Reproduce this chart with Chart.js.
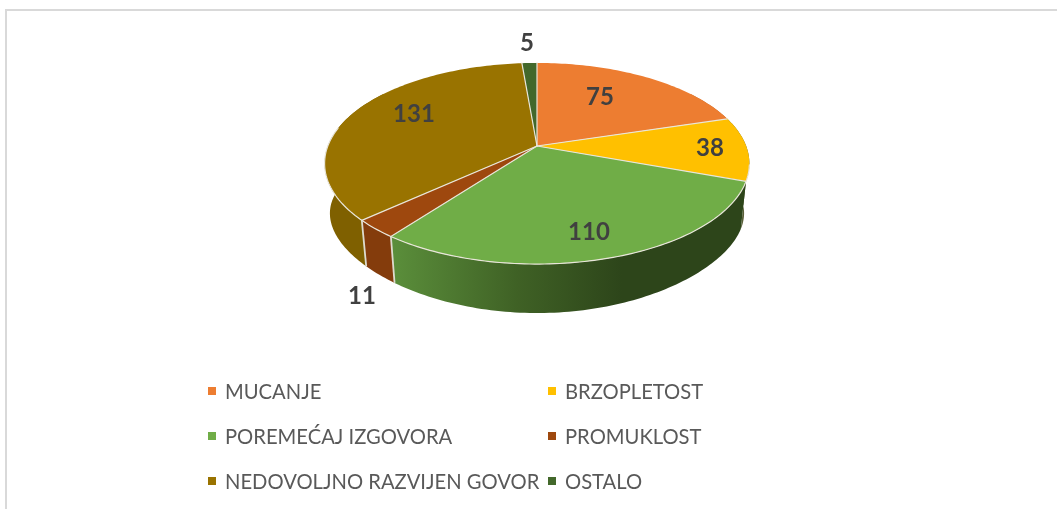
<!DOCTYPE html>
<html>
<head>
<meta charset="utf-8">
<style>html,body{margin:0;padding:0;background:#fff}canvas{display:block}</style>
<script src="https://cdn.jsdelivr.net/npm/chart.js@4"></script>
</head>
<body>
<div style="width:1057px;height:509px"><canvas id="c"></canvas></div>
<script>
const categories = ['MUCANJE','BRZOPLETOST','POREMEĆAJ IZGOVORA','PROMUKLOST','NEDOVOLJNO RAZVIJEN GOVOR','OSTALO'];
const values = [75,38,110,11,131,5];
const topColors = ['#ED7D31','#FFC000','#70AD47','#9E480E','#997300','#43682B'];
const sideColors = ['#BE6427','#5A5F38','#2D451A','#843C0C','#7F6000','#2F4A1E'];
const labelAnchors = [[600,97],[710,148],[589,232],[362,296],[414,114],[527,43]];
const FONT = 'Lato, Carlito, "Open Sans", sans-serif';

const persp = 0.174, perspLower = 0.296;
function project(arc, theta, lower) {
  const R = arc.outerRadius;
  const sx = Math.sin(theta), sy = -Math.cos(theta);
  const d = 1 - persp*sy;
  if (lower) {
    return {
      x: arc.x + (R*1.538*0.975)*sx/d,
      y: arc.y + R*0.386 + (R*0.593)*sy/(1 - perspLower*sy)
    };
  }
  return { x: arc.x + (R*1.538)*sx/d, y: arc.y + (R*0.717)*sy/d };
}
function rim(ctx, arc, a0, a1, lower, start) {
  const n = Math.max(4, Math.ceil(Math.abs(a1-a0)/0.02));
  for (let i=0;i<=n;i++) {
    const p = project(arc, a0+(a1-a0)*i/n, lower);
    if (i===0 && start) ctx.moveTo(p.x,p.y); else ctx.lineTo(p.x,p.y);
  }
}
const pie3d = {
  id:'pie3d',
  beforeDraw(chart){
    const ctx = chart.ctx;
    ctx.save();
    ctx.fillStyle = '#D9D9D9';
    ctx.fillRect(5,9,2,500);
    ctx.fillRect(5,9,1052,2);
    ctx.restore();
  },
  beforeDatasetDraw(chart, args){
    const ctx = chart.ctx, arcs = args.meta.data;
    const lim0 = Math.PI*0.3, lim1 = Math.PI*1.7;
    const rim0 = Math.PI*0.56, rim1 = Math.PI*1.56;
    const angs = arcs.map(a=>[a.startAngle+Math.PI/2, a.endAngle+Math.PI/2]);
    ctx.save();
    // visible walls
    arcs.forEach((arc,i)=>{
      const a0 = Math.max(angs[i][0],lim0), a1 = Math.min(angs[i][1],lim1);
      if (a1<=a0) return;
      ctx.beginPath();
      rim(ctx,arc,a0,a1,false,true);
      rim(ctx,arc,a1,a0,true,false);
      ctx.closePath();
      if (i===2) {
        const pa = project(arc,a1,false), pb = project(arc,Math.PI,false);
        const g = ctx.createLinearGradient(pa.x,0,pb.x+85,0);
        g.addColorStop(0,'#5B8F3B');
        g.addColorStop(0.55,'#3F6125');
        g.addColorStop(1,sideColors[2]);
        ctx.fillStyle = g;
      } else ctx.fillStyle = sideColors[i];
      ctx.fill();
    });
    // wall separators
    ctx.strokeStyle = '#DDDBCF'; ctx.lineWidth = 1.8;
    [3,4].forEach(i=>{
      const arc = arcs[i], p = project(arc,angs[i][0],false), q = project(arc,angs[i][0],true);
      ctx.beginPath(); ctx.moveTo(p.x,p.y); ctx.lineTo(q.x,q.y); ctx.stroke();
    });
    // top faces
    arcs.forEach((arc,i)=>{
      ctx.beginPath();
      ctx.moveTo(arc.x,arc.y);
      rim(ctx,arc,angs[i][0],angs[i][1],false,false);
      ctx.closePath();
      ctx.fillStyle = topColors[i];
      ctx.fill();
    });
    // slice separators and the front rim; the back rim has no visible outline
    ctx.strokeStyle = '#E9E6DA'; ctx.lineWidth = 1.2; ctx.lineCap='round';
    arcs.forEach((arc,i)=>{
      const p = project(arc,angs[i][0],false);
      ctx.beginPath(); ctx.moveTo(arc.x,arc.y); ctx.lineTo(p.x,p.y); ctx.stroke();
    });
    ctx.beginPath();
    rim(ctx,arcs[0],rim0,rim1,false,true);
    ctx.stroke();
    ctx.restore();
    return false;
  },
  afterDraw(chart){
    const ctx = chart.ctx;
    ctx.save();
    ctx.textBaseline = 'middle';
    ctx.textAlign = 'center';
    ctx.font = 'bold 24px '+FONT;
    ctx.fillStyle = '#404040';
    values.forEach((v,i)=>ctx.fillText(String(v),labelAnchors[i][0],labelAnchors[i][1]));
    ctx.textAlign = 'left';
    ctx.font = '20.2px '+FONT;
    categories.forEach((t,i)=>{
      const col = i%2, row = Math.floor(i/2);
      const y = 391 + row*45;
      ctx.fillStyle = topColors[i];
      ctx.fillRect(col?548:208, y-4, 8, 8);
      ctx.fillStyle = '#595959';
      ctx.fillText(t, col?565:225, y+1);
    });
    ctx.restore();
  }
};
new Chart(document.getElementById('c'),{
  type:'pie',
  data:{labels:categories,datasets:[{data:values,backgroundColor:topColors,borderWidth:0}]},
  options:{
    responsive:true,maintainAspectRatio:false,animation:false,
    layout:{padding:{left:17,right:0,top:10,bottom:227}},
    plugins:{legend:{display:false},tooltip:{enabled:false},title:{display:false}}
  },
  plugins:[pie3d]
});
</script>
</body>
</html>
